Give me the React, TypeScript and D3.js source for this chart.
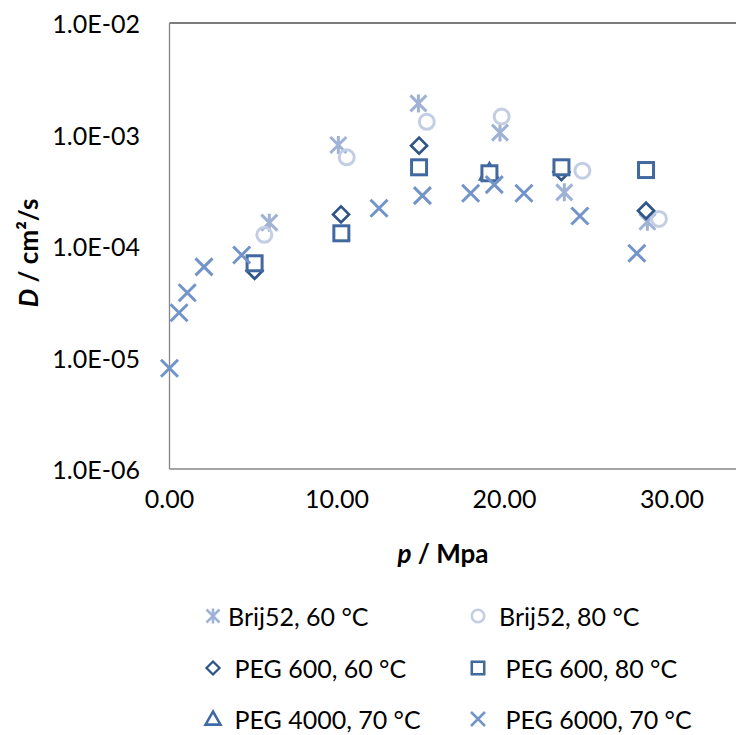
import React from "react";
import * as d3 from "d3";

// Pressure (MPa) and diffusion coefficient (cm²/s) for each system
const brij60P = [5.96, 10.08, 14.86, 19.73, 23.57, 28.53];
const brij60D = [1.62e-4, 8.05e-4, 1.9e-3, 1.04e-3, 3.03e-4, 1.65e-4];

const brij80P = [5.66, 10.58, 15.36, 19.83, 24.65, 29.22];
const brij80D = [1.26e-4, 6.24e-4, 1.3e-3, 1.45e-3, 4.74e-4, 1.75e-4];

const peg600_60P = [5.08, 10.24, 14.9, 23.4, 28.45];
const peg600_60D = [6.0e-5, 1.92e-4, 7.94e-4, 4.6e-4, 2.07e-4];

const peg600_80P = [5.08, 10.26, 14.9, 19.1, 23.4, 28.45];
const peg600_80D = [7.0e-5, 1.3e-4, 5.08e-4, 4.49e-4, 5.08e-4, 4.8e-4];

const peg4000P = [19.1];
const peg4000D = [4.56e-4];

const peg6000P = [0, 0.57, 1.06, 2.06, 4.31, 12.51, 15.1, 17.98, 19.39, 21.16, 24.5, 27.9];
const peg6000D = [8.0e-6, 2.52e-5, 3.81e-5, 6.5e-5, 8.3e-5, 2.18e-4, 2.83e-4, 2.97e-4, 3.55e-4, 2.97e-4, 1.86e-4, 8.6e-5];

const xTicks = [0, 10, 20, 30];
const yTicks = [1e-6, 1e-5, 1e-4, 1e-3, 1e-2];

type Shape = "asterisk" | "circle" | "diamond" | "square" | "triangle" | "x";

const FONT = "Lato, 'Open Sans', sans-serif";
const FS = 25;

function Marker({ shape, x, y, s, color }: { shape: Shape; x: number; y: number; s: number; color: string }) {
  const h = s / 2;
  const sw = 3 * Math.max(0.85, s / 18);
  switch (shape) {
    case "circle":
      return <circle cx={x} cy={y} r={h - sw / 2} fill="none" stroke={color} strokeWidth={sw} />;
    case "square":
      return (
        <rect x={x - h + sw / 2} y={y - h + sw / 2} width={s - sw} height={s - sw}
          fill="#fff" stroke={color} strokeWidth={sw} />
      );
    case "diamond": {
      const r = h - 1;
      return (
        <path d={`M${x},${y - r}L${x + r},${y}L${x},${y + r}L${x - r},${y}Z`}
          fill="#fff" stroke={color} strokeWidth={sw * 0.9} strokeLinejoin="miter" />
      );
    }
    case "triangle": {
      const r = h;
      return (
        <path d={`M${x},${y - r}L${x + r},${y + r * 0.75}L${x - r},${y + r * 0.75}Z`}
          fill="#fff" stroke={color} strokeWidth={sw} />
      );
    }
    case "x": {
      const r = h - 0.5;
      return (
        <path d={`M${x - r},${y - r}L${x + r},${y + r}M${x - r},${y + r}L${x + r},${y - r}`}
          stroke={color} strokeWidth={sw} />
      );
    }
    case "asterisk": {
      const r = h - 1;
      return (
        <path d={`M${x - r},${y - r}L${x + r},${y + r}M${x - r},${y + r}L${x + r},${y - r}M${x},${y - r - 1}L${x},${y + r + 1}`}
          stroke={color} strokeWidth={sw} />
      );
    }
  }
}

export default function App() {
  const W = 736;
  const H = 735;
  const left = 169.5;
  const top = 23;
  const bottom = 469;
  const x = d3.scaleLinear().domain([0, 40]).range([left, left + 670]);
  const y = d3.scaleLog().domain([1e-6, 1e-2]).range([bottom, top]);

  // drawing order: later entries sit on top
  const series: { name: string; P: number[]; D: number[]; shape: Shape; color: string }[] = [
    { name: "Brij52, 60 °C", P: brij60P, D: brij60D, shape: "asterisk", color: "#9fb2d6" },
    { name: "Brij52, 80 °C", P: brij80P, D: brij80D, shape: "circle", color: "#c3cee4" },
    { name: " PEG 600, 60 °C", P: peg600_60P, D: peg600_60D, shape: "diamond", color: "#2f5488" },
    { name: " PEG 4000, 70 °C", P: peg4000P, D: peg4000D, shape: "triangle", color: "#3f6aa6" },
    { name: " PEG 600, 80 °C", P: peg600_80P, D: peg600_80D, shape: "square", color: "#41699f" },
    { name: " PEG 6000, 70 °C", P: peg6000P, D: peg6000D, shape: "x", color: "#7394c9" },
  ];
  const legendOrder = [0, 1, 2, 4, 3, 5];

  const fmtY = (v: number) => {
    const e = Math.round(Math.log10(v));
    return `1.0E-${String(-e).padStart(2, "0")}`;
  };

  const legendRows = [616, 668, 719];
  const legendCols = [{ mx: 213, tx: 228 }, { mx: 478, tx: 499 }];

  return (
    <svg width={W} height={H} style={{ position: "absolute", left: 0, top: 0, background: "#fff" }}
      fontFamily={FONT}>
      {/* plot frame */}
      <line x1={left} x2={W + 10} y1={top} y2={top} stroke="#505050" strokeWidth={1.6} />
      <line x1={left} x2={left} y1={top} y2={bottom} stroke="#868686" strokeWidth={1.3} />
      <line x1={left} x2={W + 10} y1={bottom} y2={bottom} stroke="#868686" strokeWidth={1.3} />

      {/* y tick labels */}
      {yTicks.map((t) => (
        <text key={t} x={140} y={y(t)} textAnchor="end" dominantBaseline="central" fontSize={FS} fill="#000">
          {fmtY(t)}
        </text>
      ))}
      {/* x tick labels */}
      {xTicks.map((t) => (
        <text key={t} x={x(t)} y={498} textAnchor="middle" dominantBaseline="central" fontSize={FS} fill="#000">
          {t.toFixed(2)}
        </text>
      ))}

      {/* axis titles */}
      <text x={443} y={553} textAnchor="middle" dominantBaseline="central" fontSize={FS + 1} fontWeight="bold">
        <tspan fontStyle="italic">p</tspan> / Mpa
      </text>
      <text transform={`translate(28,253) rotate(-90)`} textAnchor="middle" dominantBaseline="central"
        fontSize={FS + 1} fontWeight="bold">
        <tspan fontStyle="italic">D</tspan> / cm²/s
      </text>

      {/* data markers */}
      {series.map((s, si) => (
        <g key={si}>
          {s.P.map((p, i) => (
            <Marker key={i} shape={s.shape} x={x(p)} y={y(s.D[i])} s={18} color={s.color} />
          ))}
        </g>
      ))}

      {/* legend */}
      {legendOrder.map((si, k) => {
        const row = Math.floor(k / 2);
        const col = k % 2;
        const s = series[si];
        return (
          <g key={k}>
            <Marker shape={s.shape} x={legendCols[col].mx} y={legendRows[row]} s={15} color={s.color} />
            <text x={legendCols[col].tx} y={legendRows[row]} dominantBaseline="central" fontSize={FS}
              style={{ whiteSpace: "pre" }}>
              {s.name}
            </text>
          </g>
        );
      })}
    </svg>
  );
}
